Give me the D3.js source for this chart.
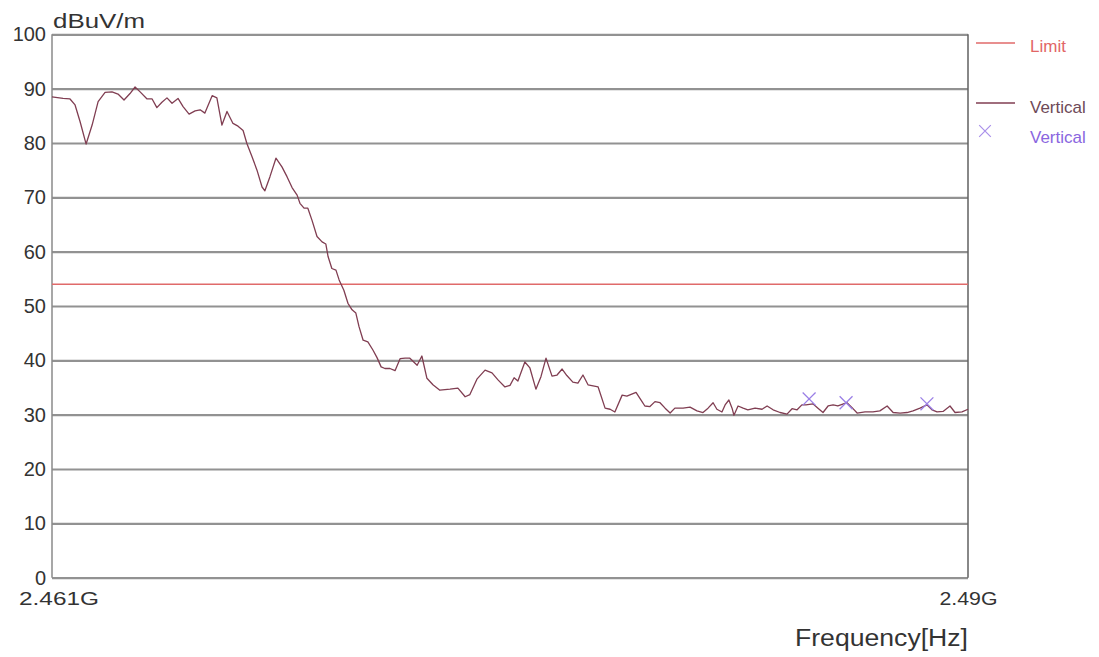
<!DOCTYPE html>
<html lang="en">
<head>
    <meta charset="UTF-8">
    <title>Frequency scan</title>
    <script src="https://cdn.jsdelivr.net/npm/d3@7/dist/d3.min.js"></script>
    <style>
        body { margin: 0; background: #fff; }
        text { font-family: "Liberation Sans", Arial, sans-serif; }
    </style>
</head>
<body>
<script type="text/javascript">
    // frequency in MHz, level in dBuV/m
    var freqMHz = [
        2461.00, 2461.35, 2461.57, 2461.73, 2461.89, 2462.08, 2462.27, 2462.46, 2462.68, 2462.90,
        2463.09, 2463.28, 2463.47, 2463.63, 2463.79, 2464.01, 2464.17, 2464.32, 2464.48, 2464.64,
        2464.80, 2464.99, 2465.15, 2465.34, 2465.53, 2465.69, 2465.84, 2466.07, 2466.22, 2466.38,
        2466.54, 2466.73, 2466.89, 2467.05, 2467.17, 2467.33, 2467.49, 2467.65, 2467.74, 2467.90,
        2468.09, 2468.28, 2468.44, 2468.60, 2468.76, 2468.85, 2468.98, 2469.10, 2469.23, 2469.39,
        2469.55, 2469.67, 2469.74, 2469.86, 2469.99, 2470.09, 2470.24, 2470.37, 2470.50, 2470.62,
        2470.72, 2470.85, 2471.00, 2471.16, 2471.29, 2471.42, 2471.54, 2471.70, 2471.86, 2472.02,
        2472.18, 2472.33, 2472.56, 2472.71, 2472.87, 2473.06, 2473.28, 2473.60, 2473.85, 2474.08,
        2474.23, 2474.46, 2474.71, 2474.93, 2475.12, 2475.34, 2475.50, 2475.63, 2475.75, 2475.97,
        2476.13, 2476.32, 2476.48, 2476.64, 2476.83, 2476.99, 2477.15, 2477.30, 2477.49, 2477.65,
        2477.81, 2477.97, 2478.29, 2478.51, 2478.67, 2478.82, 2479.05, 2479.20, 2479.49, 2479.68,
        2479.77, 2479.93, 2480.09, 2480.25, 2480.41, 2480.57, 2480.72, 2480.98, 2481.20, 2481.42,
        2481.61, 2481.77, 2481.93, 2482.05, 2482.21, 2482.31, 2482.43, 2482.53, 2482.59, 2482.72,
        2482.88, 2483.03, 2483.26, 2483.48, 2483.64, 2483.83, 2484.05, 2484.27, 2484.43, 2484.59,
        2484.74, 2484.87, 2485.09, 2485.25, 2485.41, 2485.57, 2485.73, 2485.88, 2486.17, 2486.33,
        2486.49, 2486.74, 2486.99, 2487.21, 2487.44, 2487.63, 2487.85, 2488.07, 2488.26, 2488.48,
        2488.70, 2488.86, 2489.02, 2489.21, 2489.43, 2489.59, 2489.81, 2490.00
    ];
    var verticalLevel = [
        88.5, 88.2, 88.1, 87.0, 83.9, 79.8, 83.3, 87.6, 89.3, 89.4,
        89.0, 87.9, 89.1, 90.3, 89.4, 88.1, 88.1, 86.5, 87.5, 88.3,
        87.3, 88.2, 86.7, 85.3, 85.9, 86.1, 85.5, 88.7, 88.3, 83.3,
        85.8, 83.6, 83.1, 82.3, 79.9, 77.5, 75.0, 71.9, 71.2, 73.8,
        77.2, 75.6, 73.8, 71.8, 70.4, 68.9, 68.0, 68.0, 65.8, 62.8,
        61.8, 61.4, 59.1, 56.9, 56.6, 54.8, 52.9, 50.5, 49.3, 48.7,
        46.2, 43.7, 43.4, 41.9, 40.5, 38.8, 38.5, 38.5, 38.1, 40.3,
        40.4, 40.4, 39.1, 40.8, 36.7, 35.5, 34.5, 34.7, 34.9, 33.3,
        33.7, 36.6, 38.2, 37.7, 36.4, 35.1, 35.4, 36.8, 36.2, 39.7,
        38.6, 34.7, 37.0, 40.4, 37.1, 37.3, 38.4, 37.2, 36.0, 35.8,
        37.3, 35.5, 35.1, 31.2, 31.0, 30.5, 33.6, 33.4, 34.1, 32.4,
        31.6, 31.5, 32.4, 32.2, 31.2, 30.3, 31.2, 31.2, 31.4, 30.7,
        30.4, 31.2, 32.2, 31.0, 30.5, 31.8, 32.7, 31.2, 29.9, 31.6,
        31.2, 30.9, 31.2, 31.0, 31.6, 30.9, 30.4, 30.1, 31.1, 30.9,
        31.8, 31.8, 32.0, 31.2, 30.4, 31.6, 31.8, 31.6, 32.2, 31.3,
        30.3, 30.5, 30.5, 30.7, 31.6, 30.4, 30.3, 30.4, 30.7, 31.2,
        31.8, 30.9, 30.5, 30.6, 31.6, 30.4, 30.5, 31.0
    ];
    var markerFreq = [2484.97, 2486.14, 2488.70];
    var markerLevel = [32.9, 32.2, 32.0];
    var limitLevel = 54;
    var yTicks = [0, 10, 20, 30, 40, 50, 60, 70, 80, 90, 100];
    var xTickFreq = [2461, 2490];
    var xTickLabels = ['2.461G', '2.49G'];
    var legendNames = ['Limit', 'Vertical', 'Vertical'];

    var width = 1099;
    var height = 657;
    var plotLeft = 52, plotRight = 968, plotTop = 34.3, plotBottom = 577.7;

    var svg = d3.select('body').append('svg')
            .attr('width', width)
            .attr('height', height);

    var x = d3.scaleLinear().domain([2461, 2490]).range([plotLeft, plotRight]);
    var y = d3.scaleLinear().domain([0, 100]).range([plotBottom, plotTop]);

    // horizontal grid lines
    svg.append('g')
            .attr('transform', 'translate(' + plotLeft + ',0)')
            .call(d3.axisRight(y).tickValues(yTicks).tickSize(plotRight - plotLeft).tickFormat(''))
            .call(function (g) {
                g.select('.domain').remove();
                g.selectAll('line').attr('stroke', '#929292').attr('stroke-width', 2.2);
            });

    // frame sides
    svg.append('line')
            .attr('x1', plotLeft).attr('x2', plotLeft).attr('y1', plotTop).attr('y2', plotBottom)
            .attr('stroke', '#8a8a8a').attr('stroke-width', 1.5);
    svg.append('line')
            .attr('x1', plotRight).attr('x2', plotRight).attr('y1', plotTop).attr('y2', plotBottom)
            .attr('stroke', '#606060').attr('stroke-width', 1.5);

    // y tick labels
    svg.append('g')
            .attr('transform', 'translate(' + (plotLeft - 6) + ',0)')
            .call(d3.axisLeft(y).tickValues(yTicks).tickSize(0).tickPadding(0))
            .call(function (g) {
                g.select('.domain').remove();
                g.selectAll('text')
                        .attr('font-size', 20)
                        .attr('font-family', '"Liberation Sans", Arial, sans-serif')
                        .attr('fill', '#333');
            });

    // x tick labels
    var xAxis = svg.append('g')
            .attr('transform', 'translate(0,' + (plotBottom + 14) + ')')
            .call(d3.axisBottom(x).tickValues(xTickFreq).tickSize(0).tickPadding(0)
                    .tickFormat(function (d, i) { return xTickLabels[i]; }))
            .call(function (g) {
                g.select('.domain').remove();
                g.selectAll('text')
                        .attr('font-size', 19)
                        .attr('font-family', '"Liberation Sans", Arial, sans-serif')
                        .attr('fill', '#333')
                        .attr('textLength', function (d, i) { return i === 0 ? 80 : 58; })
                        .attr('lengthAdjust', 'spacingAndGlyphs');
            });
    xAxis.selectAll('.tick').filter(function (d) { return d === 2461; })
            .attr('transform', 'translate(' + (plotLeft + 7) + ',0)');

    // axis titles
    svg.append('text')
            .attr('x', 53).attr('y', 28)
            .attr('font-size', 21)
            .attr('fill', '#333')
            .attr('textLength', 92).attr('lengthAdjust', 'spacingAndGlyphs')
            .text('dBuV/m');
    svg.append('text')
            .attr('x', 968).attr('y', 646)
            .attr('text-anchor', 'end')
            .attr('font-size', 23)
            .attr('fill', '#333')
            .attr('textLength', 173).attr('lengthAdjust', 'spacingAndGlyphs')
            .text('Frequency[Hz]');

    // limit line
    svg.append('line')
            .attr('x1', x(2461)).attr('x2', x(2490))
            .attr('y1', y(limitLevel)).attr('y2', y(limitLevel))
            .attr('stroke', '#e06a6a').attr('stroke-width', 1.3);

    // measured trace
    var trace = freqMHz.map(function (f, i) { return [f, verticalLevel[i]]; });
    var line = d3.line()
            .x(function (d) { return x(d[0]); })
            .y(function (d) { return y(d[1]); });
    svg.append('path')
            .datum(trace)
            .attr('d', line)
            .attr('fill', 'none')
            .attr('stroke', '#803e52')
            .attr('stroke-width', 1.3)
            .attr('stroke-linejoin', 'round');

    // peak markers
    var cross = d3.symbol().type(d3.symbolX).size(110);
    svg.selectAll('.peak')
            .data(markerFreq)
            .enter()
            .append('path')
            .attr('class', 'peak')
            .attr('transform', function (d, i) {
                return 'translate(' + x(d) + ',' + y(markerLevel[i]) + ')';
            })
            .attr('d', cross)
            .attr('fill', 'none')
            .attr('stroke', '#9a7fe6')
            .attr('stroke-width', 1.3);

    // legend
    var legendY = [46, 103, 133];
    var legendColor = ['#e26666', '#6e4a58', '#8a66e0'];
    var legend = svg.append('g');
    legend.append('line')
            .attr('x1', 976).attr('x2', 1015).attr('y1', legendY[0] - 3).attr('y2', legendY[0] - 3)
            .attr('stroke', '#e06a6a').attr('stroke-width', 1.3);
    legend.append('line')
            .attr('x1', 976).attr('x2', 1015).attr('y1', legendY[1]).attr('y2', legendY[1])
            .attr('stroke', '#803e52').attr('stroke-width', 1.3);
    legend.append('path')
            .attr('transform', 'translate(985,' + (legendY[2] - 2) + ')')
            .attr('d', d3.symbol().type(d3.symbolX).size(90))
            .attr('fill', 'none')
            .attr('stroke', '#a990ea').attr('stroke-width', 1.2);
    legend.selectAll('.legendText')
            .data(legendNames)
            .enter()
            .append('text')
            .attr('class', 'legendText')
            .attr('x', 1030)
            .attr('y', function (d, i) { return legendY[i] + (i === 0 ? 6 : 10); })
            .attr('font-size', 17)
            .attr('fill', function (d, i) { return legendColor[i]; })
            .text(function (d) { return d; });
</script>
</body>
</html>
